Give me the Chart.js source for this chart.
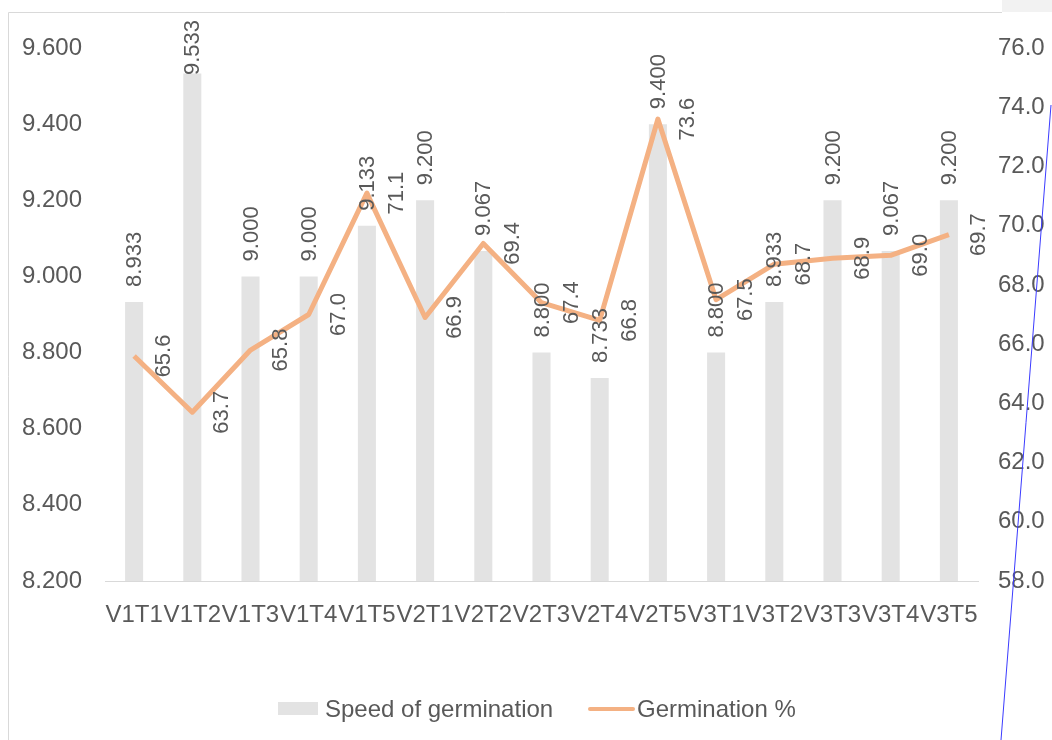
<!DOCTYPE html>
<html>
<head>
<meta charset="utf-8">
<script src="https://cdn.jsdelivr.net/npm/chart.js@4.4.0/dist/chart.umd.min.js"></script>
<style>
  html, body { margin: 0; padding: 0; background: #fff; }
  #wrap { width: 1052px; height: 740px; position: relative; }
</style>
</head>
<body>
<div id="wrap"><canvas id="chartGerminacion" width="1052" height="740"></canvas></div>
<script>
const categorias = ['V1T1', 'V1T2', 'V1T3', 'V1T4', 'V1T5', 'V2T1', 'V2T2', 'V2T3', 'V2T4', 'V2T5', 'V3T1', 'V3T2', 'V3T3', 'V3T4', 'V3T5'];
const velocidad = [8.933, 9.533, 9.000, 9.000, 9.133, 9.200, 9.067, 8.800, 8.733, 9.400, 8.800, 8.933, 9.200, 9.067, 9.200];
const germinacion = [65.6, 63.7, 65.8, 67.0, 71.1, 66.9, 69.4, 67.4, 66.8, 73.6, 67.5, 68.7, 68.9, 69.0, 69.7];

const colorTexto = '#595959';
const colorBarra = '#e3e3e3';
const colorLinea = '#f4b183';
const fuente = '"Liberation Sans", Arial, sans-serif';

// etiquetas de datos giradas, como en Excel
const etiquetasDatos = {
    id: 'etiquetasDatos',
    afterDatasetsDraw(chart) {
        const ctx = chart.ctx;
        ctx.save();
        ctx.fillStyle = colorTexto;
        ctx.font = '22px ' + fuente;

        const barras = chart.getDatasetMeta(0);
        barras.data.forEach((el, i) => {
            const texto = velocidad[i].toFixed(3);
            const ancho = ctx.measureText(texto).width;
            // Excel baja la etiqueta si no cabe arriba
            const base = Math.max(el.y - 15, 20 + ancho);
            ctx.save();
            ctx.translate(el.x, base);
            ctx.rotate(-Math.PI / 2);
            ctx.textAlign = 'left';
            ctx.textBaseline = 'middle';
            ctx.fillText(texto, 0, 1);
            ctx.restore();
        });

        const linea = chart.getDatasetMeta(1);
        linea.data.forEach((el, i) => {
            ctx.save();
            ctx.translate(el.x + 29, el.y);
            ctx.rotate(-Math.PI / 2);
            ctx.textAlign = 'center';
            ctx.textBaseline = 'middle';
            ctx.fillText(germinacion[i].toFixed(1), 0, 1);
            ctx.restore();
        });
        ctx.restore();
    },
    afterDraw(chart) {
        const ctx = chart.ctx;
        ctx.save();
        // marco del grafico
        ctx.strokeStyle = '#d9d9d9';
        ctx.lineWidth = 1;
        ctx.beginPath();
        ctx.moveTo(8.5, 740);
        ctx.lineTo(8.5, 12.5);
        ctx.lineTo(1002, 12.5);
        ctx.stroke();
        ctx.fillStyle = '#f2f2f2';
        ctx.fillRect(1002, 0, 50, 12);

        // leyenda
        ctx.font = '24px ' + fuente;
        ctx.fillStyle = colorBarra;
        ctx.fillRect(278, 702, 40, 13);
        ctx.fillStyle = colorTexto;
        ctx.textBaseline = 'middle';
        ctx.textAlign = 'left';
        ctx.fillText(chart.data.datasets[0].label, 325, 710);
        ctx.strokeStyle = colorLinea;
        ctx.lineWidth = 4;
        ctx.lineCap = 'round';
        ctx.beginPath();
        ctx.moveTo(590, 709);
        ctx.lineTo(633, 709);
        ctx.stroke();
        ctx.fillText(chart.data.datasets[1].label, 637, 710);

        // linea azul suelta
        ctx.strokeStyle = '#3b3bff';
        ctx.lineWidth = 1;
        ctx.lineCap = 'butt';
        ctx.beginPath();
        ctx.moveTo(1051, 105);
        ctx.lineTo(1001, 740);
        ctx.stroke();
        ctx.restore();
    }
};

const ctx = document.getElementById('chartGerminacion').getContext('2d');

const chartGerminacion = new Chart(ctx, {
    type: 'bar',
    data: {
        labels: categorias,
        datasets: [{
            type: 'bar',
            label: 'Speed of germination',
            data: velocidad,
            backgroundColor: colorBarra,
            barPercentage: 0.31,
            categoryPercentage: 1,
            yAxisID: 'y',
            order: 1
        }, {
            type: 'line',
            label: 'Germination %',
            data: germinacion,
            borderColor: colorLinea,
            borderWidth: 5,
            pointRadius: 0,
            tension: 0,
            borderJoinStyle: 'round',
            yAxisID: 'y1',
            order: 0
        }]
    },
    options: {
        responsive: false,
        animation: false,
        layout: { padding: { top: 48, left: 0, right: 0, bottom: 0 } },
        plugins: {
            legend: { display: false },
            tooltip: { enabled: false }
        },
        scales: {
            x: {
                grid: { display: false, drawTicks: false },
                border: { display: true, color: '#d9d9d9', width: 1 },
                ticks: {
                    color: colorTexto,
                    font: { family: fuente, size: 24 },
                    autoSkip: false,
                    maxRotation: 0,
                    minRotation: 0,
                    padding: 20
                },
                afterFit(scale) { scale.height = 159; }
            },
            y: {
                position: 'left',
                min: 8.2,
                max: 9.6,
                grid: { display: false, drawTicks: false },
                border: { display: false },
                ticks: {
                    stepSize: 0.2,
                    color: colorTexto,
                    font: { family: fuente, size: 24 },
                    padding: 23,
                    callback: v => Number(v).toFixed(3)
                },
                afterFit(scale) { scale.width = 105; }
            },
            y1: {
                position: 'right',
                min: 58,
                max: 76,
                grid: { display: false, drawTicks: false },
                border: { display: false },
                ticks: {
                    stepSize: 2,
                    color: colorTexto,
                    font: { family: fuente, size: 24 },
                    padding: 20,
                    callback: v => Number(v).toFixed(1)
                },
                afterFit(scale) { scale.width = 74; }
            }
        }
    },
    plugins: [etiquetasDatos]
});
</script>
</body>
</html>
